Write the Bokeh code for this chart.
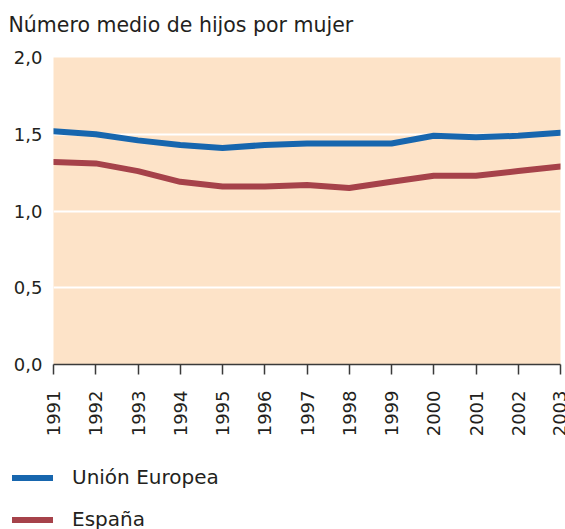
import math
from bokeh.plotting import figure
from bokeh.layouts import column
from bokeh.models import Legend, LegendItem, FixedTicker, Range1d, Label
from bokeh.embed import file_html
from bokeh.resources import INLINE

years = [1991, 1992, 1993, 1994, 1995, 1996, 1997, 1998, 1999, 2000, 2001, 2002, 2003]
union_europea = [1.52, 1.50, 1.46, 1.43, 1.41, 1.43, 1.44, 1.44, 1.44, 1.49, 1.48, 1.49, 1.51]
espana = [1.32, 1.31, 1.26, 1.19, 1.16, 1.16, 1.17, 1.15, 1.19, 1.23, 1.23, 1.26, 1.29]
series_names = ["Unión Europea", "España"]
y_ticks = [0.0, 0.5, 1.0, 1.5, 2.0]
y_tick_labels = ["0,0", "0,5", "1,0", "1,5", "2,0"]
title_text = "Número medio de hijos por mujer"

FONT = "DejaVu Sans"
TXT = "#231f20"
BLUE = "#1766ae"
RED = "#a6424a"
COLORS = [BLUE, RED]


def blank_figure(height):
    f = figure(width=565, height=height, output_backend="svg", toolbar_location=None,
               x_axis_location=None, y_axis_location=None,
               min_border_left=0, min_border_right=0, min_border_top=0,
               min_border_bottom=0)
    f.frame_align = False
    f.outline_line_color = None
    f.grid.visible = False
    f.background_fill_color = "white"
    return f


# title strip
tf = blank_figure(40)
tf.add_layout(Label(x=8, y=16, x_units="screen", y_units="screen", text=title_text,
                    text_font=FONT, text_font_size="20.5px", text_color=TXT,
                    text_baseline="alphabetic", text_align="left"))

# main chart
p = figure(width=565, height=405, output_backend="svg", toolbar_location=None,
           x_range=Range1d(1991, 2003), y_range=Range1d(0, 2),
           min_border_left=53, min_border_right=5, min_border_top=17,
           min_border_bottom=81)
p.frame_align = False

p.background_fill_color = "#fde3c8"
p.border_fill_color = "white"
p.outline_line_color = None

p.xgrid.grid_line_color = None
p.ygrid.ticker = FixedTicker(ticks=[0.5, 1.0, 1.5])
p.ygrid.grid_line_color = "white"
p.ygrid.grid_line_width = 2

p.yaxis.ticker = FixedTicker(ticks=y_ticks)
p.yaxis.major_label_overrides = {t: l for t, l in zip(y_ticks, y_tick_labels)}
p.yaxis.axis_line_color = None
p.yaxis.major_tick_line_color = None
p.yaxis.minor_tick_line_color = None
p.yaxis.major_label_standoff = 5
p.yaxis.major_label_text_font = FONT
p.yaxis.major_label_text_font_size = "18px"
p.yaxis.major_label_text_color = TXT

p.xaxis.ticker = FixedTicker(ticks=years)
p.xaxis.axis_line_color = "#3a3a3a"
p.xaxis.axis_line_width = 1.5
p.xaxis.major_tick_line_color = "#3a3a3a"
p.xaxis.major_tick_line_width = 1.5
p.xaxis.major_tick_out = 10
p.xaxis.major_tick_in = 0
p.xaxis.minor_tick_line_color = None
p.xaxis.major_label_orientation = math.pi / 2
p.xaxis.major_label_standoff = 16
p.xaxis.major_label_text_font = FONT
p.xaxis.major_label_text_font_size = "18px"
p.xaxis.major_label_text_color = TXT

p.line(years, union_europea, line_color=BLUE, line_width=6,
       line_cap="round", line_join="round")
p.line(years, espana, line_color=RED, line_width=6,
       line_cap="round", line_join="round")

# legend strip below the chart (swatch renderers hold a single NaN point,
# so nothing is drawn in the strip except the legend itself)
lg = blank_figure(84)
items = []
for name, col in zip(series_names, COLORS):
    r = lg.line([float("nan")], [float("nan")], line_color=col, line_width=6,
                line_cap="round", line_join="round")
    items.append(LegendItem(label=name, renderers=[r]))

legend = Legend(items=items, location=(12, -2), orientation="vertical",
                glyph_width=41, glyph_height=23, label_height=23,
                label_standoff=19, spacing=18, padding=0, margin=0,
                border_line_color=None, background_fill_alpha=0,
                label_text_font=FONT, label_text_font_size="20px",
                label_text_color=TXT)
lg.add_layout(legend, "center")

layout = column(tf, p, lg, spacing=0)
open("out.html", "w").write(file_html(layout, INLINE))
